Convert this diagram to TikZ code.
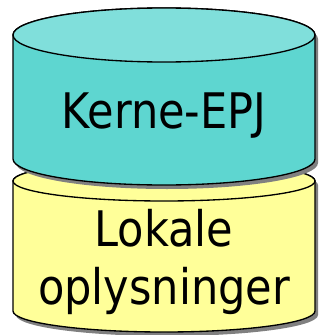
\documentclass[tikz,border=0pt]{standalone}
\usepackage{fontspec}
\newfontfamily\drumfont[FakeStretch=0.88]{DejaVu Sans}
\definecolor{tealbody}{HTML}{5ED6D0}
\definecolor{tealtop}{HTML}{80DFDB}
\definecolor{yellowbody}{HTML}{FFFF99}
\definecolor{shadowgray}{HTML}{808080}
\tikzset{drum/.style={draw=black, line width=1pt, line join=round},
  drumshadow/.style={fill=shadowgray, shift={(3,-4)}},
  drumlabel/.style={font=\drumfont\fontsize{36.75}{43.5}\selectfont, inner sep=0pt}}

\begin{document}
\begin{tikzpicture}[x=0.75pt,y=0.75pt]
  \useasboundingbox (0,0) rectangle (320,-335);
  % lower drum
  \fill [drumshadow] (13,-181) -- (13,-311) arc (180:360:151 and 21) -- (315,-181) arc (0:180:151 and 20) -- cycle;
  \draw [drum, fill=yellowbody] (13,-181) -- (13,-311) arc (180:360:151 and 21) -- (315,-181) arc (0:180:151 and 20) -- cycle;
  \draw [drum, fill=yellowbody] (164,-181) ellipse (151 and 20);
  % upper drum
  \fill [drumshadow] (13,-35) -- (13,-159) arc (180:360:151 and 26) -- (315,-35) arc (0:180:151 and 27) -- cycle;
  \draw [drum, fill=tealbody] (13,-35) -- (13,-159) arc (180:360:151 and 26) -- (315,-35) arc (0:180:151 and 27) -- cycle;
  \draw [drum, fill=tealtop] (164,-35) ellipse (151 and 27);
  % labels
  \node [drumlabel, anchor=base] (kerne) at (164,-128) {Kerne-EPJ};
  \node [drumlabel, align=center] (lokale) at (164,-261.5) {Lokale\\oplysninger};
\end{tikzpicture}
\end{document}
